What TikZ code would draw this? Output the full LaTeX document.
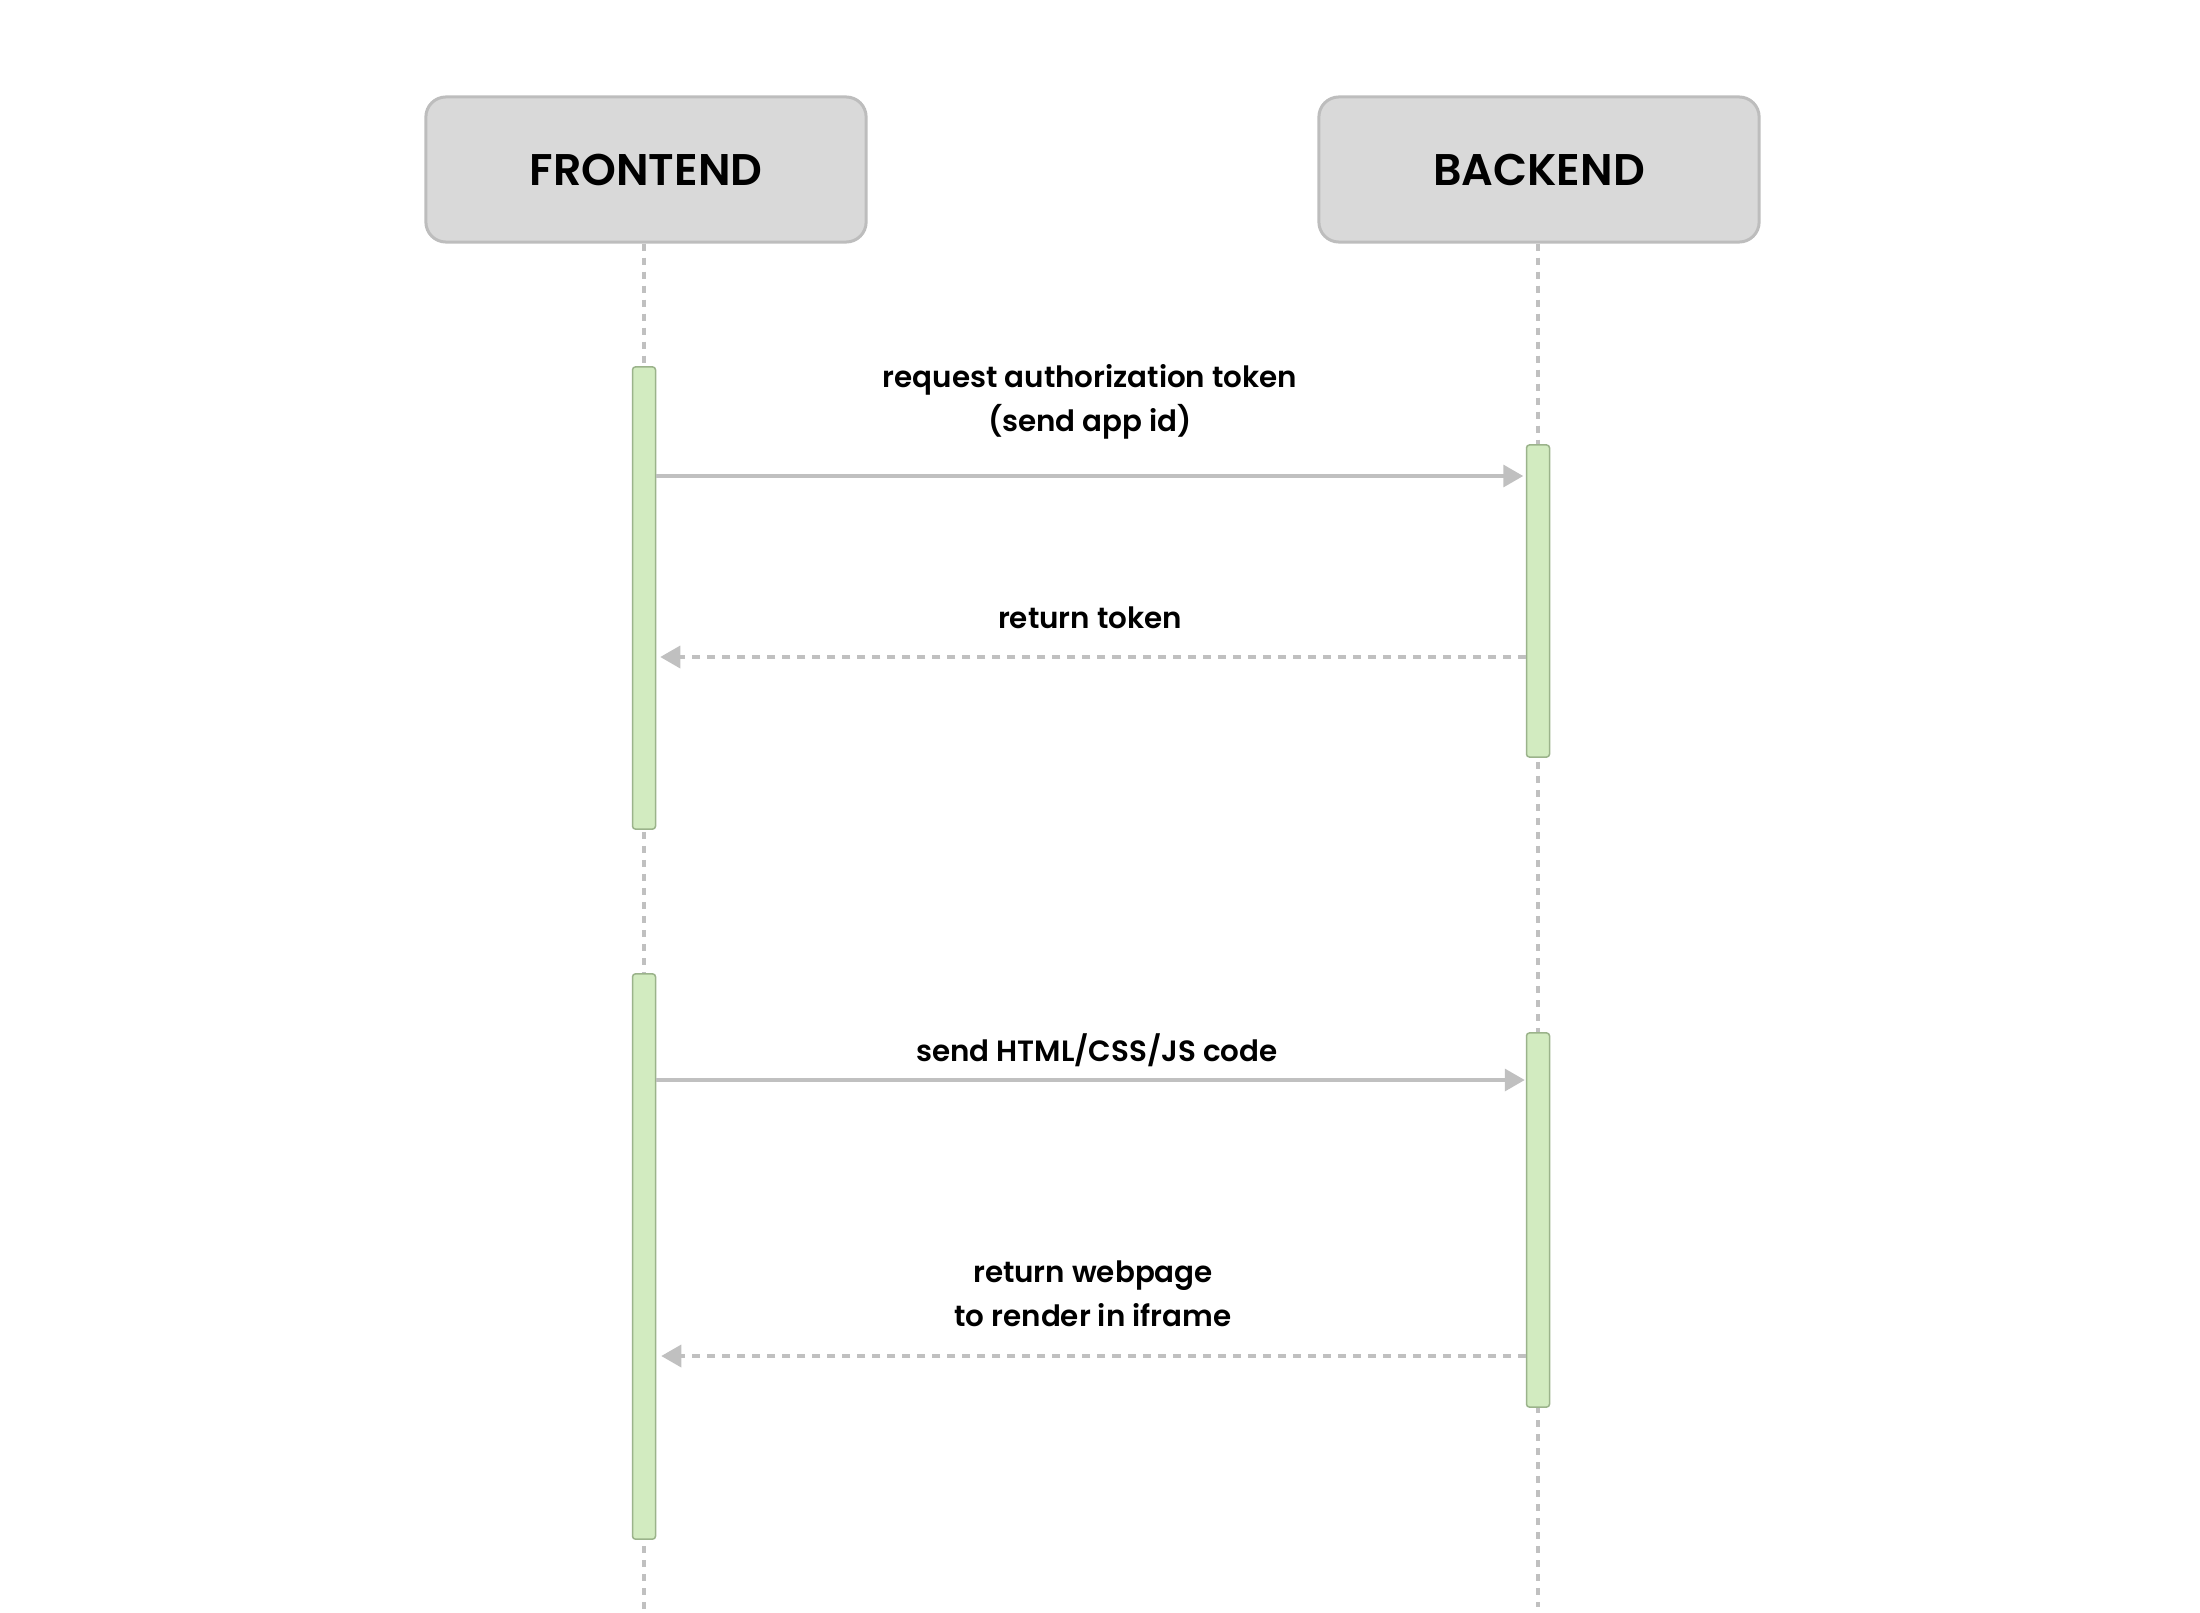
\documentclass[tikz,border=0pt]{standalone}
\usepackage{fontspec}
\setmainfont{Poppins}
\newfontfamily\semib{Poppins SemiBold}
\usetikzlibrary{arrows.meta}
\definecolor{boxfill}{HTML}{D9D9D9}
\definecolor{boxdraw}{HTML}{BDBDBD}
\definecolor{actfill}{HTML}{D2EBC0}
\definecolor{actdraw}{HTML}{9BB38B}
\definecolor{linegray}{HTML}{C0C0C0}
\tikzset{
  party/.style={draw=boxdraw, line width=0.03cm, fill=boxfill, rounded corners=0.2cm,
    minimum width=4.4cm, minimum height=1.45cm, font=\semib\fontsize{12.6}{15}\selectfont, inner sep=0pt},
  actbox/.style={draw=actdraw, line width=0.015cm, fill=actfill, rounded corners=0.03cm,
    minimum width=0.23cm, inner sep=0pt},
  lifeline/.style={linegray, line width=0.035cm, dash pattern=on 0.07cm off 0.07cm},
  msg/.style={linegray, line width=0.035cm, -{Triangle[length=0.2cm,width=0.22cm]}},
  reply/.style={msg, dash pattern=on 0.08cm off 0.07cm},
  lbl/.style={font=\semib\fontsize{8.35}{12.5}\selectfont, align=center, inner sep=0pt}
}
\begin{document}
\begin{tikzpicture}[x=0.01cm,y=-0.01cm]
\useasboundingbox (0,0) rectangle (2200,1612);
\node[party] (fe) at (646,169.5) {FRONTEND};
\node[party] (be) at (1539,169.5) {BACKEND};
\coordinate (feend) at (644,1612);
\coordinate (beend) at (1538,1607);
\draw[lifeline] (fe.south -| feend) -- (feend);
\draw[lifeline] (be.south -| beend) -- (beend);
% activations
\node[actbox, minimum height=4.62cm] (fa1) at (644,598) {};
\node[actbox, minimum height=3.12cm] (ba1) at (1538,601) {};
\node[actbox, minimum height=5.65cm] (fa2) at (644,1256.5) {};
\node[actbox, minimum height=3.74cm] (ba2) at (1538,1220) {};
% messages
\draw[msg] (fa1.east |- 0,476) -- ([xshift=-0.025cm]ba1.west |- 0,476);
\draw[reply] (ba1.west |- 0,657) -- ([xshift=0.04cm]fa1.east |- 0,657);
\draw[msg] (fa2.east |- 0,1080) -- ([xshift=-0.01cm]ba2.west |- 0,1080);
\draw[reply] (ba2.west |- 0,1356) -- ([xshift=0.05cm]fa2.east |- 0,1356);
% labels
\node[lbl] (l1) at (1090,402) {request authorization token\\(send app id)};
\node[lbl] (l2) at (1090,618) {return token};
\node[lbl] (l3) at (1097,1050) {send HTML/CSS/JS code};
\node[lbl] (l4) at (1093,1294) {return webpage\\to render in iframe};
\end{tikzpicture}
\end{document}
